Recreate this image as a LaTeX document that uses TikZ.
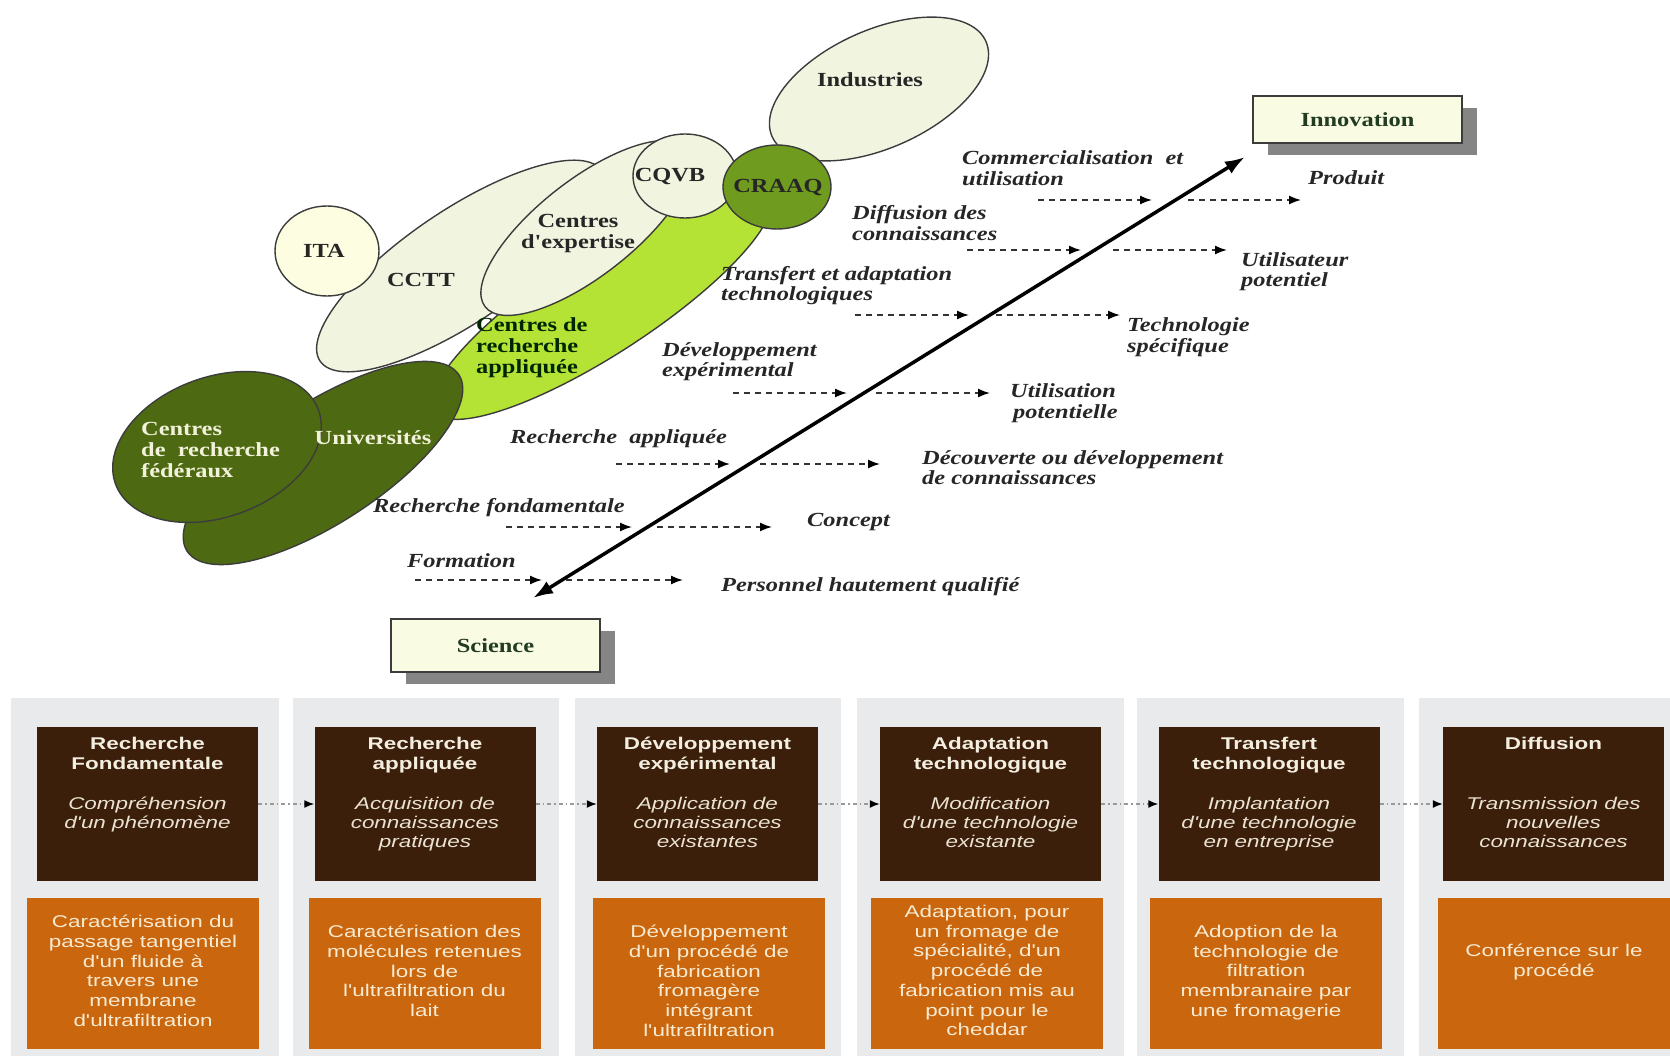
\documentclass[tikz,border=0pt]{standalone}
\usepackage{fontspec}
\newfontfamily\sansW[FakeStretch=1.32]{Liberation Sans}
\newfontfamily\serifW[FakeStretch=1.22]{Liberation Serif}
\usetikzlibrary{arrows.meta,shadows}
\definecolor{lightE}{HTML}{F1F5E0}
\definecolor{itaC}{HTML}{FDFDE1}
\definecolor{craaqC}{HTML}{6F9B1F}
\definecolor{limeC}{HTML}{B5E335}
\definecolor{oliveC}{HTML}{4D6912}
\definecolor{outl}{HTML}{3C3C3C}
\definecolor{boxC}{HTML}{F9FCE3}
\definecolor{panelC}{HTML}{E8EAEC}
\definecolor{brownC}{HTML}{3B1F0B}
\definecolor{orangeC}{HTML}{C9660E}
\definecolor{titleT}{HTML}{F3EEE0}
\definecolor{italT}{HTML}{EAE2D2}
\definecolor{orangeT}{HTML}{F8EAD0}
\definecolor{paleT}{HTML}{F2F2DA}
\definecolor{labT}{HTML}{262626}
\begin{document}
\begin{tikzpicture}[x=1pt,y=-1pt,
  shp/.style={draw=outl, line width=1.4pt},
  lbl/.style={font=\serifW\fontsize{20}{21}\selectfont\bfseries, text=labT, inner sep=0pt, align=left},
  itl/.style={font=\serifW\fontsize{20}{20.5}\selectfont\bfseries\itshape, text=labT, inner sep=0pt, align=left, anchor=west},
  dsh/.style={draw=black!80, line width=1.6pt, dash pattern=on 6pt off 5pt, -{Latex[length=12pt,width=9pt,color=black]}},
  bigarrow/.style={line width=3.5pt, {Latex[length=20pt,width=14pt]}-{Latex[length=20pt,width=14pt]}},
  capbox/.style={draw=outl, line width=1.5pt, fill=boxC, inner sep=0pt, font=\serifW\fontsize{20}{21}\selectfont\bfseries, text=labT!90!green,
     drop shadow={shadow xshift=15pt, shadow yshift=-12pt, fill=black!48, opacity=1}},
  dbox/.style={fill=brownC, draw=none, inner sep=0pt, minimum width=221pt, minimum height=154pt},
  obox/.style={fill=orangeC, draw=none, inner sep=0pt, minimum width=232pt, minimum height=151pt},
  dtitle/.style={font=\sansW\fontsize{17}{19.5}\selectfont\bfseries, text=titleT, align=center, anchor=north, inner sep=0pt},
  dital/.style={font=\sansW\fontsize{17}{19}\selectfont\itshape, text=italT, align=center, anchor=north, inner sep=0pt},
  otext/.style={font=\sansW\fontsize{17}{19.7}\selectfont, text=orangeT, align=center, anchor=north, inner sep=0pt},
  flow/.style={draw=black!40, line width=1.5pt, dash pattern=on 4pt off 3pt on 1.5pt off 3pt, -{Latex[length=10pt,width=8pt,color=black]}}
]
\useasboundingbox (0,0) rectangle (1670,1056);
\fill[white] (0,0) rectangle (1670,1056);

% ---------- ellipses ----------
\filldraw[shp, fill=limeC, rotate around={33:(602,302)}] (602,302) ellipse [x radius=200, y radius=52];
\filldraw[shp, fill=lightE, rotate around={24:(879,89)}] (879,89) ellipse [x radius=117, y radius=59];
\filldraw[shp, fill=lightE, rotate around={34:(461,266)}] (461,266) ellipse [x radius=170, y radius=56];
\filldraw[shp, fill=itaC] (327,251) ellipse [x radius=52, y radius=45];
\filldraw[shp, fill=lightE, rotate around={38:(586,228)}] (586,228) ellipse [x radius=128, y radius=48];
\filldraw[shp, fill=lightE] (685,176) ellipse [x radius=52, y radius=42];
\filldraw[shp, fill=craaqC] (777,187) ellipse [x radius=54, y radius=42];
\filldraw[shp, fill=oliveC, rotate around={33:(323,463)}] (323,463) ellipse [x radius=162, y radius=60];
\filldraw[shp, fill=oliveC, rotate around={20:(217,447)}] (217,447) ellipse [x radius=108, y radius=70];

% ---------- ellipse labels ----------
\node[lbl] (lind) at (870,80) {Industries};
\node[lbl] (lita) at (324,251) {ITA};
\node[lbl] (lcctt) at (421,280) {CCTT};
\node[lbl, align=center] (lexp) at (578,234) {Centres\\d'expertise};
\node[lbl] (lcqvb) at (670,177) {CQVB};
\node[lbl] (lcraaq) at (778,188) {CRAAQ};
\node[lbl, anchor=west, text=black!85!green] (lcra) at (476,348) {Centres de\\recherche\\appliquée};
\node[lbl, text=paleT] (luni) at (373,438) {Universités};
\node[lbl, anchor=west, text=paleT] (lfed) at (141,450) {Centres\\de~~recherche\\fédéraux};

% ---------- boxes ----------
\node[capbox, minimum width=209pt, minimum height=53pt] (sci) at (495.5,645.5) {Science};
\node[capbox, minimum width=209pt, minimum height=47pt] (inn) at (1357.5,119.5) {Innovation};

% ---------- main arrow ----------
\coordinate (lowtip) at (533,598);
\coordinate (hightip) at (1245,157);
\draw[bigarrow] (lowtip) -- (hightip);

% ---------- italic labels ----------
\node[itl] (tcom) at (962,168) {Commercialisation~~et\\utilisation};
\node[itl] (tdif) at (852,223) {Diffusion des\\connaissances};
\node[itl] (ttra) at (721,285.5) {Transfert et adaptation\\technologiques};
\node[itl] (tdev) at (662,361.5) {Développement\\expérimental};
\node[itl] (trap) at (510,439) {Recherche~~appliquée};
\node[itl] (trfo) at (373,508) {Recherche fondamentale};
\node[itl] (tfor) at (407,561) {Formation};
\node[itl] (tpro) at (1308,178) {Produit};
\node[itl] (tuti) at (1241,271.5) {Utilisateur\\potentiel};
\node[itl] (ttec) at (1127,337) {Technologie\\spécifique};
\node[itl] (tupo) at (1010,403) {Utilisation\\\hspace*{3pt}potentielle};
\node[itl] (tdec) at (922,467.5) {Découverte ou développement\\de connaissances};
\node[itl] (tcon) at (807,522) {Concept};
\node[itl] (tper) at (721,587) {Personnel hautement qualifié};

% ---------- dashed arrows ----------
\foreach \nm/\y/\a/\b/\c/\d in {com/200/1038/1152/1188/1301, dif/250/967/1081/1113/1227,
    tra/315/855/969/996/1120, dev/393/733/847/876/990, rap/464/616/730/760/880,
    rfo/527/506/632/657/772, for/580/415/542/566/683}{
  \coordinate (\nm L1) at (\a,\y);
  \coordinate (\nm L2) at (\b,\y);
  \coordinate (\nm R1) at (\c,\y);
  \coordinate (\nm R2) at (\d,\y);
  \draw[dsh] (\nm L1) -- (\nm L2);
  \draw[dsh] (\nm R1) -- (\nm R2);
}

% ---------- bottom panels ----------
\fill[panelC] (11,698) rectangle (279,1056);
\fill[panelC] (293,698) rectangle (559,1056);
\fill[panelC] (575,698) rectangle (841,1056);
\fill[panelC] (857,698) rectangle (1124,1056);
\fill[panelC] (1137,698) rectangle (1404,1056);
\fill[panelC] (1419,698) rectangle (1670,1056);

\node[dbox] (d1) at (147.5,804) {};
\node[dbox] (d2) at (425,804) {};
\node[dbox] (d3) at (707.5,804) {};
\node[dbox] (d4) at (990.5,804) {};
\node[dbox] (d5) at (1269,804) {};
\node[dbox] (d6) at (1553.5,804) {};

\node[obox] (o1) at (143,973.5) {};
\node[obox] (o2) at (424.5,973.5) {};
\node[obox] (o3) at (709,973.5) {};
\node[obox] (o4) at (987,973.5) {};
\node[obox] (o5) at (1266,973.5) {};
\node[obox] (o6) at (1554,973.5) {};

\draw[flow] (d1.east) -- (d2.west);
\draw[flow] (d2.east) -- (d3.west);
\draw[flow] (d3.east) -- (d4.west);
\draw[flow] (d4.east) -- (d5.west);
\draw[flow] (d5.east) -- (d6.west);

\node[dtitle] (d1t) at (147.5,737) {Recherche\\Fondamentale};
\node[dtitle] (d2t) at (425,737) {Recherche\\appliquée};
\node[dtitle] (d3t) at (707.5,737) {Développement\\expérimental};
\node[dtitle] (d4t) at (990.5,737) {Adaptation\\technologique};
\node[dtitle] (d5t) at (1269,737) {Transfert\\technologique};
\node[dtitle] (d6t) at (1553.5,737) {Diffusion};

\node[dital] (d1i) at (147.5,797) {Compréhension\\d'un phénomène};
\node[dital] (d2i) at (425,797) {Acquisition de\\connaissances\\pratiques};
\node[dital] (d3i) at (707.5,797) {Application de\\connaissances\\existantes};
\node[dital] (d4i) at (990.5,797) {Modification\\d'une technologie\\existante};
\node[dital] (d5i) at (1269,797) {Implantation\\d'une technologie\\en entreprise};
\node[dital] (d6i) at (1553.5,797) {Transmission des\\nouvelles\\connaissances};

\node[otext] (o1t) at (143,915) {Caractérisation du\\passage tangentiel\\d'un fluide à\\travers une\\membrane\\d'ultrafiltration};
\node[otext] (o2t) at (424.5,925) {Caractérisation des\\molécules retenues\\lors de\\l'ultrafiltration du\\lait};
\node[otext] (o3t) at (709,925) {Développement\\d'un procédé de\\fabrication\\fromagère\\intégrant\\l'ultrafiltration};
\node[otext] (o4t) at (987,905) {Adaptation, pour\\un fromage de\\spécialité, d'un\\procédé de\\fabrication mis au\\point pour le\\cheddar};
\node[otext] (o5t) at (1266,925) {Adoption de la\\technologie de\\filtration\\membranaire par\\une fromagerie};
\node[otext] (o6t) at (1554,944) {Conférence sur le\\procédé};
\end{tikzpicture}
\end{document}
